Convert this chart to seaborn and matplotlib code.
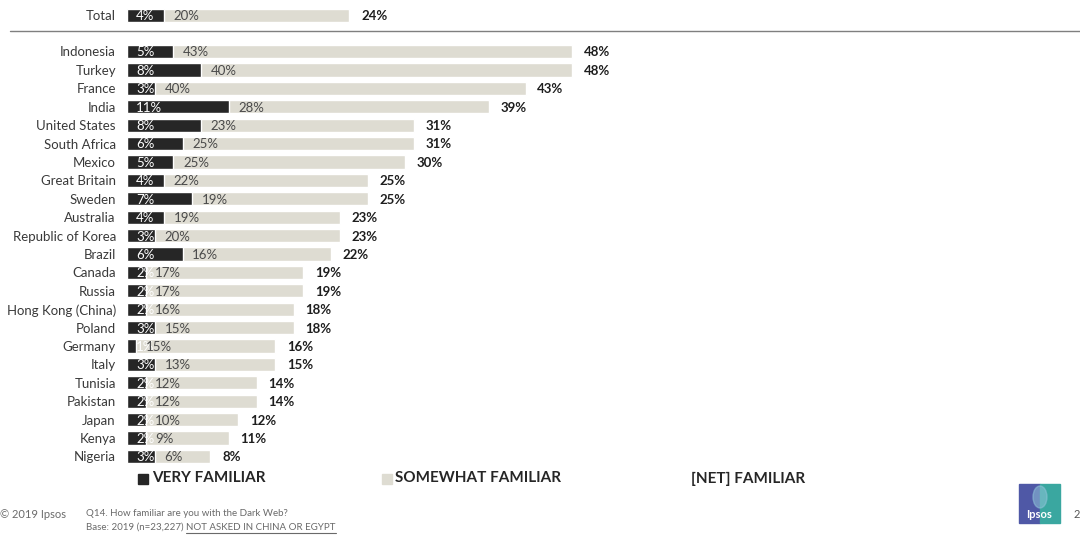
import matplotlib
matplotlib.use("Agg")
import matplotlib.pyplot as plt
import pandas as pd
import seaborn as sns
from matplotlib.patches import Rectangle, Ellipse
from matplotlib.lines import Line2D

# Survey results: familiarity with the Dark Web (%)
countries = ["Indonesia", "Turkey", "France", "India", "United States", "South Africa",
             "Mexico", "Great Britain", "Sweden", "Australia", "Republic of Korea",
             "Brazil", "Canada", "Russia", "Hong Kong (China)", "Poland", "Germany",
             "Italy", "Tunisia", "Pakistan", "Japan", "Kenya", "Nigeria"]
very_familiar = [5, 8, 3, 11, 8, 6, 5, 4, 7, 4, 3, 6, 2, 2, 2, 3, 1, 3, 2, 2, 2, 2, 3]
somewhat_familiar = [43, 40, 40, 28, 23, 25, 25, 22, 19, 19, 20, 16, 17, 17, 16, 15,
                     15, 13, 12, 12, 10, 9, 6]
net_familiar = [48, 48, 43, 39, 31, 31, 30, 25, 25, 23, 23, 22, 19, 19, 18, 18, 16,
                15, 14, 14, 12, 11, 8]
total_label = ["Total"]
total_very = [4]
total_somewhat = [20]
total_net = [24]

DARK = "#262626"
LIGHT = "#dedcd2"
W, H = 1080, 535

sns.set_theme(style="white")
plt.rcParams["font.family"] = ["Lato", "DejaVu Sans"]

fig = plt.figure(figsize=(W / 100, H / 100), dpi=100)


def frac(x0, y_top, x1, y_bot):
    return [x0 / W, 1 - y_bot / H, (x1 - x0) / W, (y_bot - y_top) / H]


def fx(x):
    return x / W


def fy(y):
    return 1 - y / H


XMAX = 100
x_right = 127 + 9.27 * XMAX
row_h = (456 - 51) / 22

ax_tot = fig.add_axes(frac(127, 15.5 - row_h / 2, x_right, 15.5 + row_h / 2))
ax = fig.add_axes(frac(127, 51.5 - row_h / 2, x_right, 456.5 + row_h / 2))


def draw_panel(axis, labels, very, somewhat, net):
    df = pd.DataFrame({"label": labels, "very": very, "somewhat": somewhat, "net": net})
    df["stack"] = df["very"] + df["somewhat"]
    sns.barplot(data=df, y="label", x="stack", orient="h", order=labels, color=LIGHT,
                saturation=1, width=0.72, ax=axis)
    sns.barplot(data=df, y="label", x="very", orient="h", order=labels, color=DARK,
                saturation=1, width=0.72, ax=axis)
    for i, r in df.iterrows():
        axis.text(1.0, i + 0.05, f"{r['very']}%", color="white", va="center",
                  ha="left", fontsize=9.5)
        axis.text(r["very"] + 1.05, i + 0.05, f"{r['somewhat']}%", color="#4a4a4a",
                  va="center", ha="left", fontsize=9.5)
        axis.text(r["stack"] + 1.25, i + 0.05, f"{r['net']}%", color="#1e1e1e",
                  va="center", ha="left", fontsize=9.5, fontweight="bold")
    axis.set_xlim(0, XMAX)
    axis.set_xlabel("")
    axis.set_ylabel("")
    axis.set_xticks([])
    axis.tick_params(axis="y", length=0, pad=8, labelsize=9.5, labelcolor="#3a3a3a")
    sns.despine(ax=axis, left=True, bottom=True)
    axis.patch.set_alpha(0)


draw_panel(ax_tot, total_label, total_very, total_somewhat, total_net)
draw_panel(ax, countries, very_familiar, somewhat_familiar, net_familiar)

# separator between total and countries
fig.add_artist(Line2D([fx(10), fx(1080)], [fy(30.5), fy(30.5)], color="#7f7f7f",
                      lw=1.0, transform=fig.transFigure))

# legend row
legend_y = 478.5
fig.add_artist(Rectangle((fx(138), fy(legend_y + 5)), 10 / W, 10 / H, color=DARK,
                         transform=fig.transFigure))
fig.text(fx(152), fy(legend_y), "VERY FAMILIAR", fontsize=11, fontweight="bold",
         color="#262626", va="center", ha="left")
fig.add_artist(Rectangle((fx(382), fy(legend_y + 5)), 10 / W, 10 / H, color=LIGHT,
                         transform=fig.transFigure))
fig.text(fx(395), fy(legend_y), "SOMEWHAT FAMILIAR", fontsize=11, fontweight="bold",
         color="#262626", va="center", ha="left")
fig.text(fx(691), fy(legend_y), "[NET] FAMILIAR", fontsize=11, fontweight="bold",
         color="#262626", va="center", ha="left")

# footer
fig.text(fx(0), fy(514), "© 2019 Ipsos", fontsize=8, color="#6a6a6a", va="center",
         ha="left")
fig.text(fx(86), fy(514), "Q14. How familiar are you with the Dark Web?", fontsize=7,
         color="#6a6a6a", va="center", ha="left")
base_txt = fig.text(fx(86), fy(527), "Base: 2019 (n=23,227) ", fontsize=7,
                    color="#6a6a6a", va="center", ha="left")
fig.canvas.draw()
bb = base_txt.get_window_extent()
note = fig.text(bb.x1 / W, fy(527), "NOT ASKED IN CHINA OR EGYPT", fontsize=7,
                color="#6a6a6a", va="center", ha="left")
fig.canvas.draw()
nb = note.get_window_extent()
fig.add_artist(Line2D([nb.x0 / W, nb.x1 / W], [fy(533), fy(533)], color="#6a6a6a",
                      lw=0.8, transform=fig.transFigure))

# logo
fig.add_artist(Rectangle((fx(1019), fy(523)), 21 / W, 39 / H, color="#4f58a6",
                         transform=fig.transFigure))
fig.add_artist(Rectangle((fx(1040), fy(523)), 20 / W, 39 / H, color="#3aa7a0",
                         transform=fig.transFigure))
fig.add_artist(Ellipse((fx(1040), fy(497)), 14 / W, 22 / H, color="#8fc3d8",
                       alpha=0.55, transform=fig.transFigure))
fig.text(fx(1039.5), fy(514), "Ipsos", fontsize=8, color="white", fontweight="bold",
         va="center", ha="center")
fig.text(fx(1074), fy(514), "2", fontsize=8, color="#555555", va="center", ha="left")

fig.savefig("out.png", dpi=100, facecolor="white")
